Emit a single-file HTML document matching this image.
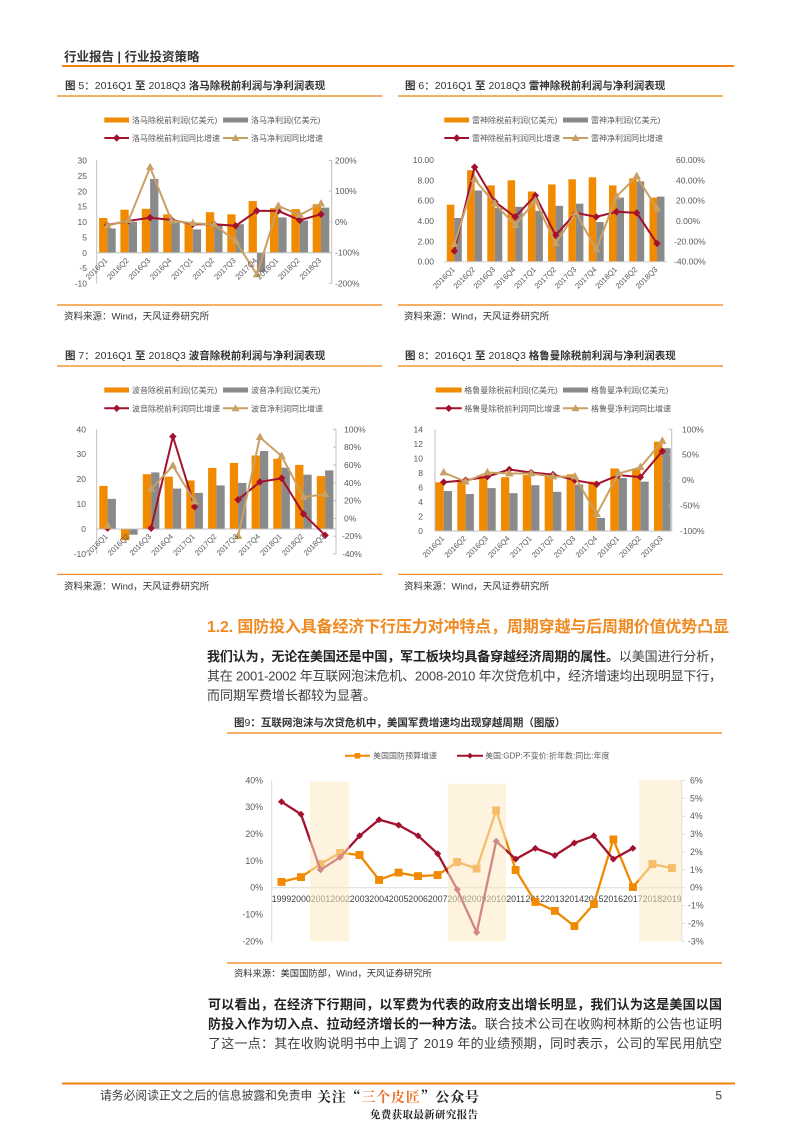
<!DOCTYPE html>
<html><head><meta charset="utf-8">
<style>
html,body{margin:0;padding:0;background:#fff;}
svg{display:block;}
</style></head>
<body>
<svg width="793" height="1122" viewBox="0 0 793 1122" xmlns="http://www.w3.org/2000/svg" font-family="'Liberation Sans','Noto Sans CJK SC',sans-serif">
<defs>
<marker id="dR" viewBox="0 0 8 8" refX="4" refY="4" markerWidth="7.5" markerHeight="7.5" markerUnits="userSpaceOnUse"><path d="M4 0L8 4L4 8L0 4Z" fill="#a3112f"/></marker>
<marker id="tT" viewBox="0 0 9 8" refX="4.5" refY="5" markerWidth="8.5" markerHeight="7.5" markerUnits="userSpaceOnUse"><path d="M4.5 0L9 8L0 8Z" fill="#c9a063"/></marker>
<marker id="sO" viewBox="0 0 8 8" refX="4" refY="4" markerWidth="8" markerHeight="8" markerUnits="userSpaceOnUse"><rect width="8" height="8" fill="#f08a00"/></marker>
<marker id="dR2" viewBox="0 0 8 8" refX="4" refY="4" markerWidth="7" markerHeight="7" markerUnits="userSpaceOnUse"><path d="M4 0L8 4L4 8L0 4Z" fill="#a3112f"/></marker>
</defs>

<!-- header -->
<text x="64" y="61" font-size="12.5" font-weight="bold" fill="#333">行业报告 | 行业投资策略</text>
<line x1="62" y1="66" x2="734" y2="66" stroke="#f0820f" stroke-width="2"/>

<!-- ============ Chart 5 ============ -->
<text x="65" y="89" font-size="10.5" fill="#333" font-weight="bold">图 <tspan font-weight="normal">5：2016Q1</tspan> 至 <tspan font-weight="normal">2018Q3</tspan> 洛马除税前利润与净利润表现</text>
<line x1="57" y1="96" x2="382" y2="96" stroke="#f0820f" stroke-width="1.2"/>
<g font-size="8" fill="#595959">
<rect x="104.3" y="117.5" width="24.7" height="5" fill="#f28a00"/><text x="132" y="123">洛马除税前利润(亿美元)</text>
<rect x="223" y="117.5" width="25" height="5" fill="#8a8a8a"/><text x="251" y="123">洛马净利润(亿美元)</text>
<line x1="104.3" y1="138" x2="129" y2="138" stroke="#a3112f" stroke-width="2"/><path d="M116.7 134.3L120.4 138L116.7 141.7L113 138Z" fill="#a3112f"/><text x="132" y="141">洛马除税前利润同比增速</text>
<line x1="223" y1="138" x2="248" y2="138" stroke="#c9a063" stroke-width="2"/><path d="M235.5 134L239.5 141L231.5 141Z" fill="#c9a063"/><text x="251" y="141">洛马净利润同比增速</text>
</g>
<g fill="#f28a00">
<rect x="99.1" y="218.0" width="8.3" height="34.75"/><rect x="120.4" y="209.7" width="8.3" height="43.05"/><rect x="141.8" y="208.8" width="8.3" height="43.95"/><rect x="163.2" y="214.3" width="8.3" height="38.45"/><rect x="184.5" y="223.2" width="8.3" height="29.55"/><rect x="205.9" y="212.2" width="8.3" height="40.55"/><rect x="227.3" y="214.3" width="8.3" height="38.45"/><rect x="248.6" y="201.1" width="8.3" height="51.65"/><rect x="270.0" y="208.2" width="8.3" height="44.55"/><rect x="291.4" y="209.1" width="8.3" height="43.65"/><rect x="312.7" y="204.2" width="8.3" height="48.55"/>
</g>
<g fill="#8a8a8a">
<rect x="107.4" y="228.5" width="8.3" height="24.25"/><rect x="128.7" y="221.7" width="8.3" height="31.05"/><rect x="150.1" y="179.0" width="8.3" height="73.75"/><rect x="171.5" y="222.6" width="8.3" height="30.15"/><rect x="192.8" y="229.4" width="8.3" height="23.35"/><rect x="214.2" y="224.5" width="8.3" height="28.25"/><rect x="235.6" y="224.2" width="8.3" height="28.55"/><rect x="256.9" y="252.75" width="8.3" height="19.4"/><rect x="278.3" y="217.4" width="8.3" height="35.35"/><rect x="299.7" y="220.5" width="8.3" height="32.25"/><rect x="321.0" y="207.6" width="8.3" height="45.15"/>
</g>
<g stroke="#bfbfbf" stroke-width="1" fill="none">
<line x1="96.7" y1="160" x2="96.7" y2="283.5"/><line x1="96.7" y1="252.75" x2="331.7" y2="252.75"/>
<line x1="331.7" y1="160" x2="331.7" y2="283.5"/>
<path d="M328.7 160.5H331.7M328.7 191.1H331.7M328.7 221.75H331.7M328.7 252.6H331.7M328.7 283.5H331.7"/>
</g>
<polyline points="107.4,225.2 128.7,220.8 150.1,217.7 171.5,219.9 192.8,224.2 214.2,224.2 235.6,225.8 256.9,210.9 278.3,210.9 299.7,220.2 321.0,214.3" fill="none" stroke="#a3112f" stroke-width="2" marker-start="url(#dR)" marker-mid="url(#dR)" marker-end="url(#dR)"/>
<polyline points="107.4,225.8 128.7,220.2 150.1,167.4 171.5,220.8 192.8,223.3 214.2,224.5 235.6,241.2 256.9,274.6 278.3,206.0 299.7,215.0 321.0,203.8" fill="none" stroke="#c9a063" stroke-width="2" marker-start="url(#tT)" marker-mid="url(#tT)" marker-end="url(#tT)"/>
<g font-size="8.5" fill="#595959" text-anchor="end">
<text x="87" y="163.5">30</text><text x="87" y="178.9">25</text><text x="87" y="194.3">20</text><text x="87" y="209.6">15</text><text x="87" y="225">10</text><text x="87" y="240.4">5</text><text x="87" y="255.75">0</text><text x="87" y="271.1">-5</text><text x="87" y="286.5">-10</text>
</g>
<g font-size="8.5" fill="#595959">
<text x="335" y="163.5">200%</text><text x="335" y="194.1">100%</text><text x="335" y="224.75">0%</text><text x="335" y="255.6">-100%</text><text x="335" y="286.5">-200%</text>
</g>
<g font-size="7.6" fill="#595959" text-anchor="end">
<text transform="translate(108,261) rotate(-45)">2016Q1</text><text transform="translate(129.3,261) rotate(-45)">2016Q2</text><text transform="translate(150.7,261) rotate(-45)">2016Q3</text><text transform="translate(172.1,261) rotate(-45)">2016Q4</text><text transform="translate(193.4,261) rotate(-45)">2017Q1</text><text transform="translate(214.8,261) rotate(-45)">2017Q2</text><text transform="translate(236.2,261) rotate(-45)">2017Q3</text><text transform="translate(257.5,261) rotate(-45)">2017Q4</text><text transform="translate(278.9,261) rotate(-45)">2018Q1</text><text transform="translate(300.3,261) rotate(-45)">2018Q2</text><text transform="translate(321.6,261) rotate(-45)">2018Q3</text>
</g>
<line x1="57" y1="305" x2="382" y2="305" stroke="#f0820f" stroke-width="1.2"/>
<text x="64" y="319.5" font-size="9.5" fill="#333">资料来源：Wind，天风证券研究所</text>

<!-- ============ Chart 6 ============ -->
<text x="405" y="89" font-size="10.5" fill="#333" font-weight="bold">图 <tspan font-weight="normal">6：2016Q1</tspan> 至 <tspan font-weight="normal">2018Q3</tspan> 雷神除税前利润与净利润表现</text>
<line x1="398" y1="96" x2="723" y2="96" stroke="#f0820f" stroke-width="1.2"/>
<g font-size="8" fill="#595959">
<rect x="444.3" y="117.5" width="24.7" height="5" fill="#f28a00"/><text x="472" y="123">雷神除税前利润(亿美元)</text>
<rect x="563" y="117.5" width="25" height="5" fill="#8a8a8a"/><text x="591" y="123">雷神净利润(亿美元)</text>
<line x1="444.3" y1="138" x2="469" y2="138" stroke="#a3112f" stroke-width="2"/><path d="M456.7 134.3L460.4 138L456.7 141.7L453 138Z" fill="#a3112f"/><text x="472" y="141">雷神除税前利润同比增速</text>
<line x1="563" y1="138" x2="588" y2="138" stroke="#c9a063" stroke-width="2"/><path d="M575.5 134L579.5 141L571.5 141Z" fill="#c9a063"/><text x="591" y="141">雷神净利润同比增速</text>
</g>
<g fill="#f28a00">
<rect x="446.8" y="204.7" width="7.5" height="57"/><rect x="467.1" y="170.2" width="7.5" height="91.5"/><rect x="487.3" y="185.4" width="7.5" height="76.3"/><rect x="507.6" y="180.3" width="7.5" height="81.4"/><rect x="527.9" y="191.5" width="7.5" height="70.2"/><rect x="548.1" y="184.4" width="7.5" height="77.3"/><rect x="568.4" y="179.3" width="7.5" height="82.4"/><rect x="588.7" y="177.3" width="7.5" height="84.4"/><rect x="609.0" y="185.4" width="7.5" height="76.3"/><rect x="629.2" y="178.3" width="7.5" height="83.4"/><rect x="649.5" y="197.6" width="7.5" height="64.1"/>
</g>
<g fill="#8a8a8a">
<rect x="454.3" y="218.0" width="7.5" height="43.7"/><rect x="474.6" y="190.5" width="7.5" height="71.2"/><rect x="494.8" y="207.8" width="7.5" height="53.9"/><rect x="515.1" y="206.8" width="7.5" height="54.9"/><rect x="535.4" y="210.9" width="7.5" height="50.8"/><rect x="555.6" y="205.8" width="7.5" height="55.9"/><rect x="575.9" y="203.7" width="7.5" height="58"/><rect x="596.2" y="222.0" width="7.5" height="39.7"/><rect x="616.5" y="197.6" width="7.5" height="64.1"/><rect x="636.7" y="181.4" width="7.5" height="80.3"/><rect x="657.0" y="196.6" width="7.5" height="65.1"/>
</g>
<line x1="444" y1="261.7" x2="667" y2="261.7" stroke="#d0d0d0" stroke-width="1"/>
<polyline points="454.3,251.0 474.6,167.1 494.8,201.7 515.1,216.9 535.4,195.6 555.6,235.2 575.9,212.9 596.2,216.9 616.5,211.8 636.7,212.9 657.0,243.4" fill="none" stroke="#a3112f" stroke-width="2" marker-start="url(#dR)" marker-mid="url(#dR)" marker-end="url(#dR)"/>
<polyline points="454.3,244.4 474.6,179.3 494.8,203.7 515.1,225.1 535.4,200.7 555.6,243.4 575.9,212.9 596.2,249.5 616.5,196.6 636.7,176.3 657.0,208.8" fill="none" stroke="#c9a063" stroke-width="2" marker-start="url(#tT)" marker-mid="url(#tT)" marker-end="url(#tT)"/>
<g font-size="8.5" fill="#595959" text-anchor="end">
<text x="434" y="163">10.00</text><text x="434" y="183.3">8.00</text><text x="434" y="203.7">6.00</text><text x="434" y="224">4.00</text><text x="434" y="244.4">2.00</text><text x="434" y="264.7">0.00</text>
</g>
<g font-size="8.5" fill="#595959">
<text x="676" y="163">60.00%</text><text x="676" y="183.3">40.00%</text><text x="676" y="203.7">20.00%</text><text x="676" y="224">0.00%</text><text x="674" y="244.4">-20.00%</text><text x="674" y="264.7">-40.00%</text>
</g>
<g font-size="7.6" fill="#595959" text-anchor="end">
<text transform="translate(455.3,270) rotate(-45)">2016Q1</text><text transform="translate(475.6,270) rotate(-45)">2016Q2</text><text transform="translate(495.8,270) rotate(-45)">2016Q3</text><text transform="translate(516.1,270) rotate(-45)">2016Q4</text><text transform="translate(536.4,270) rotate(-45)">2017Q1</text><text transform="translate(556.6,270) rotate(-45)">2017Q2</text><text transform="translate(576.9,270) rotate(-45)">2017Q3</text><text transform="translate(597.2,270) rotate(-45)">2017Q4</text><text transform="translate(617.5,270) rotate(-45)">2018Q1</text><text transform="translate(637.7,270) rotate(-45)">2018Q2</text><text transform="translate(658,270) rotate(-45)">2018Q3</text>
</g>
<line x1="398" y1="305" x2="723" y2="305" stroke="#f0820f" stroke-width="1.2"/>
<text x="404" y="319.5" font-size="9.5" fill="#333">资料来源：Wind，天风证券研究所</text>

<!-- ============ Chart 7 ============ -->
<text x="65" y="359" font-size="10.5" fill="#333" font-weight="bold">图 <tspan font-weight="normal">7：2016Q1</tspan> 至 <tspan font-weight="normal">2018Q3</tspan> 波音除税前利润与净利润表现</text>
<line x1="57" y1="366" x2="382" y2="366" stroke="#f0820f" stroke-width="1.2"/>
<g font-size="8" fill="#595959">
<rect x="104.3" y="387.5" width="24.7" height="5" fill="#f28a00"/><text x="132" y="393">波音除税前利润(亿美元)</text>
<rect x="223" y="387.5" width="25" height="5" fill="#8a8a8a"/><text x="251" y="393">波音净利润(亿美元)</text>
<line x1="104.3" y1="408.3" x2="129" y2="408.3" stroke="#a3112f" stroke-width="2"/><path d="M116.7 404.6L120.4 408.3L116.7 412L113 408.3Z" fill="#a3112f"/><text x="132" y="411.3">波音除税前利润同比增速</text>
<line x1="223" y1="408.3" x2="248" y2="408.3" stroke="#c9a063" stroke-width="2"/><path d="M235.5 404.3L239.5 411.3L231.5 411.3Z" fill="#c9a063"/><text x="251" y="411.3">波音净利润同比增速</text>
</g>
<g fill="#f28a00">
<rect x="99.3" y="485.9" width="8.3" height="43.1"/><rect x="121.0" y="529" width="8.3" height="11.2"/><rect x="142.8" y="474.2" width="8.3" height="54.8"/><rect x="164.6" y="476.7" width="8.3" height="52.3"/><rect x="186.3" y="480.4" width="8.3" height="48.6"/><rect x="208.1" y="467.9" width="8.3" height="61.1"/><rect x="229.8" y="462.9" width="8.3" height="66.1"/><rect x="251.6" y="455.5" width="8.3" height="73.5"/><rect x="273.3" y="458.7" width="8.3" height="70.3"/><rect x="295.1" y="464.9" width="8.3" height="64.1"/><rect x="316.8" y="476.1" width="8.3" height="52.9"/>
</g>
<g fill="#8a8a8a">
<rect x="107.6" y="498.9" width="8.3" height="30.1"/><rect x="129.3" y="529" width="8.3" height="5.7"/><rect x="151.1" y="472.4" width="8.3" height="56.6"/><rect x="172.9" y="488.6" width="8.3" height="40.4"/><rect x="194.6" y="492.9" width="8.3" height="36.1"/><rect x="216.4" y="485.4" width="8.3" height="43.6"/><rect x="238.1" y="482.9" width="8.3" height="46.1"/><rect x="259.9" y="451.0" width="8.3" height="78"/><rect x="281.6" y="467.7" width="8.3" height="61.3"/><rect x="303.4" y="474.7" width="8.3" height="54.3"/><rect x="325.1" y="470.4" width="8.3" height="58.6"/>
</g>
<g stroke="#bfbfbf" stroke-width="1" fill="none">
<line x1="96.7" y1="429.3" x2="96.7" y2="554"/><line x1="96.7" y1="529.04" x2="336" y2="529.04"/>
<line x1="336" y1="429.3" x2="336" y2="554"/>
<path d="M333 429.3H336M333 447.1H336M333 464.9H336M333 482.8H336M333 500.6H336M333 518.4H336M333 536.2H336M333 554H336"/>
</g>
<polyline points="151.1,528.2 172.9,436.5 194.6,506.8" fill="none" stroke="#a3112f" stroke-width="2" marker-start="url(#dR)" marker-mid="url(#dR)" marker-end="url(#dR)"/>
<polyline points="238.1,499.7 259.9,481.9 281.6,478.3 303.4,513.9 325.1,535.3" fill="none" stroke="#a3112f" stroke-width="2" marker-start="url(#dR)" marker-mid="url(#dR)" marker-end="url(#dR)"/>
<path d="M107.6 524.5L111.3 528.2L107.6 531.9L103.9 528.2Z" fill="#a3112f"/>
<polyline points="151.1,489.0 172.9,465.8 194.6,501.5" fill="none" stroke="#c9a063" stroke-width="2" marker-start="url(#tT)" marker-mid="url(#tT)" marker-end="url(#tT)"/>
<polyline points="238.1,536.2 259.9,437.3 281.6,456.1 303.4,497.0 325.1,494.4" fill="none" stroke="#c9a063" stroke-width="2" marker-start="url(#tT)" marker-mid="url(#tT)" marker-end="url(#tT)"/>
<path d="M107.6 521.4L111.8 528.9L103.4 528.9Z" fill="#c9a063"/>
<g font-size="8.5" fill="#595959" text-anchor="end">
<text x="86" y="432.3">40</text><text x="86" y="457.2">30</text><text x="86" y="482.1">20</text><text x="86" y="507.1">10</text><text x="86" y="532">0</text><text x="86" y="557">-10</text>
</g>
<g font-size="8.5" fill="#595959">
<text x="344" y="432.3">100%</text><text x="344" y="450.1">80%</text><text x="344" y="467.9">60%</text><text x="344" y="485.8">40%</text><text x="344" y="503.6">20%</text><text x="344" y="521.4">0%</text><text x="342" y="539.2">-20%</text><text x="342" y="557">-40%</text>
</g>
<g font-size="7.6" fill="#595959" text-anchor="end">
<text transform="translate(108.2,537) rotate(-45)">2016Q1</text><text transform="translate(129.9,537) rotate(-45)">2016Q2</text><text transform="translate(151.7,537) rotate(-45)">2016Q3</text><text transform="translate(173.5,537) rotate(-45)">2016Q4</text><text transform="translate(195.2,537) rotate(-45)">2017Q1</text><text transform="translate(217,537) rotate(-45)">2017Q2</text><text transform="translate(238.7,537) rotate(-45)">2017Q3</text><text transform="translate(260.5,537) rotate(-45)">2017Q4</text><text transform="translate(282.2,537) rotate(-45)">2018Q1</text><text transform="translate(304,537) rotate(-45)">2018Q2</text><text transform="translate(325.7,537) rotate(-45)">2018Q3</text>
</g>
<line x1="57" y1="574.3" x2="382" y2="574.3" stroke="#f0820f" stroke-width="1.2"/>
<text x="64" y="589.5" font-size="9.5" fill="#333">资料来源：Wind，天风证券研究所</text>

<!-- ============ Chart 8 ============ -->
<text x="405" y="359" font-size="10.5" fill="#333" font-weight="bold">图 <tspan font-weight="normal">8：2016Q1</tspan> 至 <tspan font-weight="normal">2018Q3</tspan> 格鲁曼除税前利润与净利润表现</text>
<line x1="398" y1="366" x2="723" y2="366" stroke="#f0820f" stroke-width="1.2"/>
<g font-size="8" fill="#595959">
<rect x="435.7" y="387.5" width="26" height="5" fill="#f28a00"/><text x="464.3" y="393">格鲁曼除税前利润(亿美元)</text>
<rect x="563" y="387.5" width="25" height="5" fill="#8a8a8a"/><text x="591" y="393">格鲁曼净利润(亿美元)</text>
<line x1="435.7" y1="408.3" x2="461.7" y2="408.3" stroke="#a3112f" stroke-width="2"/><path d="M448.7 404.6L452.4 408.3L448.7 412L445 408.3Z" fill="#a3112f"/><text x="464.3" y="411.3">格鲁曼除税前利润同比增速</text>
<line x1="563" y1="408.3" x2="588" y2="408.3" stroke="#c9a063" stroke-width="2"/><path d="M575.5 404.3L579.5 411.3L571.5 411.3Z" fill="#c9a063"/><text x="591" y="411.3">格鲁曼净利润同比增速</text>
</g>
<g fill="#f28a00">
<rect x="435.4" y="482.3" width="8.3" height="48.7"/><rect x="457.3" y="480.2" width="8.3" height="50.8"/><rect x="479.1" y="475.8" width="8.3" height="55.2"/><rect x="501.0" y="477.2" width="8.3" height="53.8"/><rect x="522.8" y="475.1" width="8.3" height="55.9"/><rect x="544.7" y="473.6" width="8.3" height="57.4"/><rect x="566.6" y="474.3" width="8.3" height="56.7"/><rect x="588.4" y="481.6" width="8.3" height="49.4"/><rect x="610.3" y="468.5" width="8.3" height="62.5"/><rect x="632.1" y="469.3" width="8.3" height="61.7"/><rect x="654.0" y="441.7" width="8.3" height="89.3"/>
</g>
<g fill="#8a8a8a">
<rect x="443.7" y="491.0" width="8.3" height="40"/><rect x="465.6" y="494.0" width="8.3" height="37"/><rect x="487.4" y="488.1" width="8.3" height="42.9"/><rect x="509.3" y="493.2" width="8.3" height="37.8"/><rect x="531.1" y="485.2" width="8.3" height="45.8"/><rect x="553.0" y="491.8" width="8.3" height="39.2"/><rect x="574.9" y="484.5" width="8.3" height="46.5"/><rect x="596.7" y="517.9" width="8.3" height="13.1"/><rect x="618.6" y="478.0" width="8.3" height="53"/><rect x="640.4" y="481.6" width="8.3" height="49.4"/><rect x="662.3" y="448.2" width="8.3" height="82.8"/>
</g>
<g stroke="#bfbfbf" stroke-width="1" fill="none">
<line x1="435" y1="429.3" x2="435" y2="531"/><line x1="435" y1="531" x2="671.7" y2="531"/>
<line x1="671.7" y1="429.3" x2="671.7" y2="531"/>
<path d="M668.7 429.3H671.7M668.7 454.7H671.7M668.7 480.2H671.7M668.7 505.6H671.7M668.7 531H671.7"/>
</g>
<polyline points="443.7,482.2 465.6,480.2 487.4,476.6 509.3,469.5 531.1,472.5 553.0,474.6 574.9,480.2 596.7,484.2 618.6,475.1 640.4,477.1 662.3,451.2" fill="none" stroke="#a3112f" stroke-width="2" marker-start="url(#dR)" marker-mid="url(#dR)" marker-end="url(#dR)"/>
<polyline points="443.7,472.5 465.6,481.7 487.4,472.5 509.3,473.5 531.1,473.5 553.0,476.6 574.9,476.6 596.7,514.2 618.6,473.5 640.4,467.4 662.3,441.0" fill="none" stroke="#c9a063" stroke-width="2" marker-start="url(#tT)" marker-mid="url(#tT)" marker-end="url(#tT)"/>
<g font-size="8.5" fill="#595959" text-anchor="end">
<text x="423" y="432.3">14</text><text x="423" y="446.8">12</text><text x="423" y="461.4">10</text><text x="423" y="475.9">8</text><text x="423" y="490.4">6</text><text x="423" y="505">4</text><text x="423" y="519.5">2</text><text x="423" y="534">0</text>
</g>
<g font-size="8.5" fill="#595959">
<text x="682" y="432.3">100%</text><text x="682" y="457.7">50%</text><text x="682" y="483.2">0%</text><text x="680" y="508.6">-50%</text><text x="680" y="534">-100%</text>
</g>
<g font-size="7.6" fill="#595959" text-anchor="end">
<text transform="translate(444.7,539) rotate(-45)">2016Q1</text><text transform="translate(466.6,539) rotate(-45)">2016Q2</text><text transform="translate(488.4,539) rotate(-45)">2016Q3</text><text transform="translate(510.3,539) rotate(-45)">2016Q4</text><text transform="translate(532.1,539) rotate(-45)">2017Q1</text><text transform="translate(554,539) rotate(-45)">2017Q2</text><text transform="translate(575.9,539) rotate(-45)">2017Q3</text><text transform="translate(597.7,539) rotate(-45)">2017Q4</text><text transform="translate(619.6,539) rotate(-45)">2018Q1</text><text transform="translate(641.4,539) rotate(-45)">2018Q2</text><text transform="translate(663.3,539) rotate(-45)">2018Q3</text>
</g>
<line x1="398" y1="574.3" x2="723" y2="574.3" stroke="#f0820f" stroke-width="1.2"/>
<text x="404" y="589.5" font-size="9.5" fill="#333">资料来源：Wind，天风证券研究所</text>

<!-- ============ Section text ============ -->
<text x="207" y="632" font-size="16" font-weight="bold" fill="#ef8a22" textLength="522" lengthAdjust="spacing">1.2. 国防投入具备经济下行压力对冲特点，周期穿越与后周期价值优势凸显</text>
<text x="207" y="661" font-size="13" fill="#404040" textLength="515" lengthAdjust="spacing"><tspan font-weight="bold" fill="#222">我们认为，无论在美国还是中国，军工板块均具备穿越经济周期的属性。</tspan>以美国进行分析，</text>
<text x="207" y="680.5" font-size="13" fill="#404040" textLength="515" lengthAdjust="spacing">其在 2001-2002 年互联网泡沫危机、2008-2010 年次贷危机中，经济增速均出现明显下行，</text>
<text x="207" y="700" font-size="13" fill="#404040">而同期军费增长都较为显著。</text>

<!-- ============ Chart 9 ============ -->
<text x="234" y="726" font-size="10.5" font-weight="bold" fill="#333">图<tspan font-weight="normal">9</tspan>：互联网泡沫与次贷危机中，美国军费增速均出现穿越周期（图版）</text>
<line x1="227" y1="733" x2="722" y2="733" stroke="#f0820f" stroke-width="1.2"/>
<g font-size="8" fill="#595959">
<line x1="345" y1="755.7" x2="370" y2="755.7" stroke="#f08a00" stroke-width="2"/><rect x="354.7" y="753" width="5.5" height="5.5" fill="#f08a00"/><text x="373" y="758.7">美国国防预算增速</text>
<line x1="457" y1="755.7" x2="483" y2="755.7" stroke="#a3112f" stroke-width="2"/><path d="M470 752.7L473 755.7L470 758.7L467 755.7Z" fill="#a3112f"/><text x="485" y="758.7">美国:GDP:不变价:折年数:同比:年度</text>
</g>
<g stroke="#d9d9d9" stroke-width="1" fill="none">
<line x1="271.7" y1="780.4" x2="271.7" y2="941.4"/>
<line x1="271.7" y1="887.7" x2="681.7" y2="887.7"/>
<line x1="681.7" y1="780.4" x2="681.7" y2="941.4"/>
<path d="M681.7 780.4H685M681.7 798.3H685M681.7 816.2H685M681.7 834H685M681.7 851.9H685M681.7 869.8H685M681.7 887.7H685M681.7 905.6H685M681.7 923.5H685M681.7 941.4H685"/>
</g>
<g font-size="8.8" fill="#404040" text-anchor="middle">
<text x="281.5" y="902">1999</text><text x="301" y="902">2000</text><text x="320.5" y="902">2001</text><text x="340.1" y="902">2002</text><text x="359.6" y="902">2003</text><text x="379.1" y="902">2004</text><text x="398.6" y="902">2005</text><text x="418.1" y="902">2006</text><text x="437.7" y="902">2007</text><text x="457.2" y="902">2008</text><text x="476.7" y="902">2009</text><text x="496.2" y="902">2010</text><text x="515.7" y="902">2011</text><text x="535.3" y="902">2012</text><text x="554.8" y="902">2013</text><text x="574.3" y="902">2014</text><text x="593.8" y="902">2015</text><text x="613.3" y="902">2016</text><text x="632.9" y="902">2017</text><text x="652.4" y="902">2018</text><text x="671.9" y="902">2019</text>
</g>
<polyline points="281.5,881.8 301.0,877.2 320.5,864.1 340.1,852.8 359.6,855.0 379.1,879.9 398.6,872.7 418.1,876.2 437.7,875.1 457.2,861.9 476.7,868.7 496.2,810.4 515.7,870.0 535.3,901.9 554.8,910.8 574.3,926.1 593.8,904.1 613.3,839.4 632.9,887.2 652.4,864.1 671.9,868.1" fill="none" stroke="#f08a00" stroke-width="2.3" marker-start="url(#sO)" marker-mid="url(#sO)" marker-end="url(#sO)"/>
<polyline points="281.5,801.8 301.0,814.3 320.5,869.8 340.1,857.3 359.6,835.8 379.1,819.7 398.6,825.1 418.1,835.8 437.7,853.7 457.2,889.5 476.7,932.4 496.2,841.2 515.7,859.1 535.3,848.3 554.8,855.5 574.3,843.0 593.8,835.8 613.3,859.1 632.9,848.3" fill="none" stroke="#a3112f" stroke-width="2.3" marker-start="url(#dR2)" marker-mid="url(#dR2)" marker-end="url(#dR2)"/>
<g fill="#fbe9c4" fill-opacity="0.55">
<rect x="310" y="781.7" width="39" height="160"/>
<rect x="447.7" y="783.7" width="58.3" height="158"/>
<rect x="639" y="780" width="42.7" height="161.7"/>
</g>
<g font-size="8.8" fill="#595959" text-anchor="end">
<text x="263" y="783.4">40%</text><text x="263" y="810.2">30%</text><text x="263" y="837">20%</text><text x="263" y="863.9">10%</text><text x="263" y="890.7">0%</text><text x="263" y="917.5">-10%</text><text x="263" y="944.4">-20%</text>
</g>
<g font-size="8.8" fill="#595959">
<text x="690" y="783.4">6%</text><text x="690" y="801.3">5%</text><text x="690" y="819.2">4%</text><text x="690" y="837">3%</text><text x="690" y="854.9">2%</text><text x="690" y="872.8">1%</text><text x="690" y="890.7">0%</text><text x="688" y="908.6">-1%</text><text x="688" y="926.5">-2%</text><text x="688" y="944.4">-3%</text>
</g>
<line x1="227" y1="963" x2="722" y2="963" stroke="#f0820f" stroke-width="1.2"/>
<text x="234" y="976.5" font-size="9.3" fill="#333">资料来源：美国国防部，Wind，天风证券研究所</text>

<!-- ============ Bottom paragraph ============ -->
<text x="208" y="1009" font-size="13" font-weight="bold" fill="#222" textLength="514" lengthAdjust="spacing">可以看出，在经济下行期间，以军费为代表的政府支出增长明显，我们认为这是美国以国</text>
<text x="208" y="1028.5" font-size="13" fill="#404040" textLength="514" lengthAdjust="spacing"><tspan font-weight="bold" fill="#222">防投入作为切入点、拉动经济增长的一种方法。</tspan>联合技术公司在收购柯林斯的公告也证明</text>
<text x="208" y="1048" font-size="13" fill="#404040" textLength="514" lengthAdjust="spacing">了这一点：其在收购说明书中上调了 2019 年的业绩预期，同时表示，公司的军民用航空</text>

<!-- ============ Footer ============ -->
<line x1="62" y1="1083.5" x2="735" y2="1083.5" stroke="#f0820f" stroke-width="2"/>
<text x="100" y="1099.5" font-size="11.8" fill="#404040">请务必阅读正文之后的信息披露和免责申</text>
<text x="722" y="1099.5" font-size="12" fill="#404040" text-anchor="end">5</text>
<rect x="313" y="1085" width="173" height="37" fill="#fff"/>
<text x="317" y="1102" font-size="14" font-weight="bold" fill="#222" font-family="'Noto Serif CJK SC','Liberation Serif',serif" textLength="162" lengthAdjust="spacing">关注“<tspan fill="#e8732a">三个皮匠</tspan>”公众号</text>
<text x="370" y="1118" font-size="10.5" font-weight="bold" fill="#222" font-family="'Noto Serif CJK SC','Liberation Serif',serif" textLength="108" lengthAdjust="spacing">免费获取最新研究报告</text>
</svg>
</body></html>
